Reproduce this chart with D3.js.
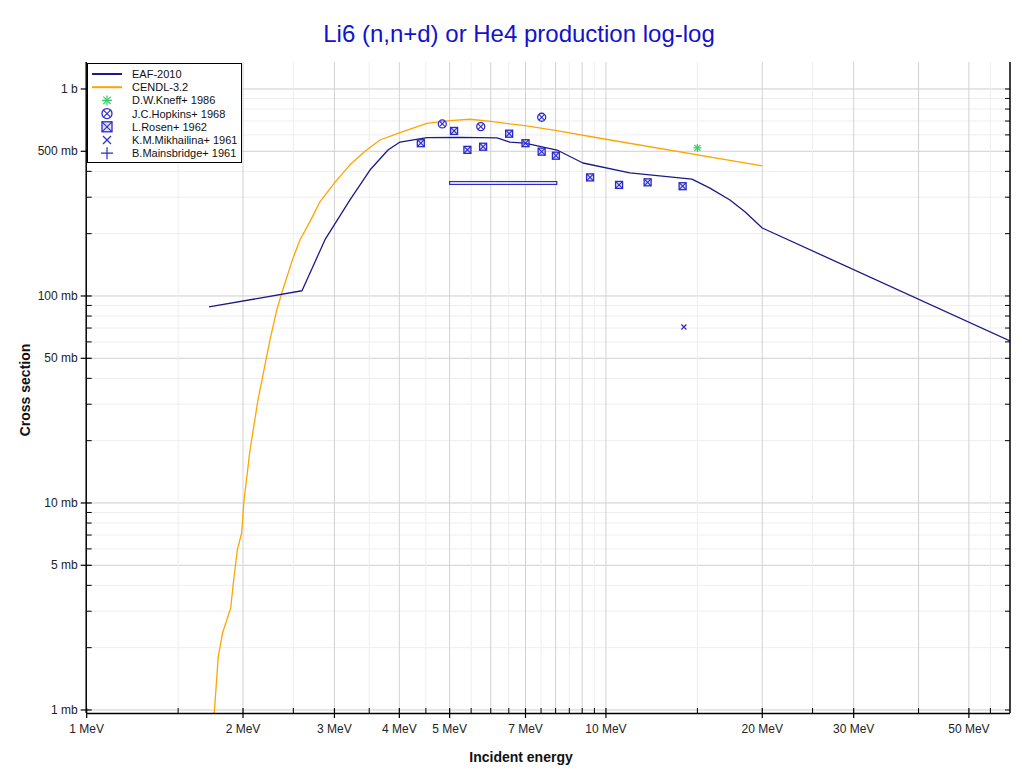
<!DOCTYPE html>
<html><head><meta charset="utf-8">
<script src="https://cdn.jsdelivr.net/npm/d3@7"></script>
<style>
body{margin:0;background:#fff;}
text{font-family:"Liberation Sans",Arial,sans-serif;}
</style></head>
<body><svg id="c" width="1022" height="773"></svg>
<script>
// ---- data ----
const eafE  = [1.72, 2.598, 2.877, 3.214, 3.512, 3.804, 4.012, 4.522, 5.234, 6.17, 6.53, 6.98, 8.05, 9.03, 11.12, 14.64, 15.86, 17.33, 18.52, 20, 60];
const eafXS = [88.5, 106, 187, 291, 406, 507, 554, 582, 584, 580, 554, 548, 507, 439, 393, 367, 332, 291, 255, 213, 60.7];
const cendlE  = [1.75, 1.761, 1.792, 1.827, 1.894, 1.916, 1.950, 1.988, 2.009, 2.063, 2.137, 2.254, 2.323, 2.374, 2.489, 2.575, 2.69, 2.813, 3.0, 3.214, 3.44, 3.671, 4.012, 4.516, 5.008, 5.472, 6.06, 7.035, 8.04, 9.74, 20];
const cendlXS = [0.9, 0.97, 1.81, 2.36, 3.11, 4.11, 5.93, 7.16, 10.3, 18, 31.4, 61.3, 85.6, 103, 149, 187, 228, 285, 352, 430, 502, 567, 615, 682, 703, 714, 695, 663, 629, 578, 425];
const kneffE = [15.0], kneffXS = [519];
const hopkinsE = [4.84, 5.74, 7.52], hopkinsXS = [678, 658, 730];
const rosenE  = [4.40, 5.10, 5.41, 5.80, 6.51, 7.00, 7.52, 8.01, 9.32, 10.6, 12.03, 14.05];
const rosenXS = [547, 627, 508, 526, 608, 547, 498, 476, 374, 344, 354, 339];
const mikhE = [14.13], mikhXS = [70.8];
const mainsE = [6.5], mainsXS = [351], mainsElo = [5.0], mainsEhi = [8.04], mainsXSlo = [346], mainsXShi = [357];
const xTickLabels = [[1,"1 MeV"],[2,"2 MeV"],[3,"3 MeV"],[4,"4 MeV"],[5,"5 MeV"],[7,"7 MeV"],[10,"10 MeV"],[20,"20 MeV"],[30,"30 MeV"],[50,"50 MeV"]];
const xMinorTicks = [1.5,2.5,3.5,4.5,5.5,6,6.5,7.5,8,8.5,9,9.5,15,25,40,55];
const xMajorGrid = [2,3,4,5,6,7,8,9,10,20,30,40,50];
const yTickLabels = [[1,"1 mb"],[5,"5 mb"],[10,"10 mb"],[50,"50 mb"],[100,"100 mb"],[500,"500 mb"],[1000,"1 b"]];
const legendNames = ["EAF-2010","CENDL-3.2","D.W.Kneff+ 1986","J.C.Hopkins+ 1968","L.Rosen+ 1962","K.M.Mikhailina+ 1961","B.Mainsbridge+ 1961"];

// ---- layout ----
const L = 86.7, R = 1010, T = 62, B = 713;
const svg = d3.select("#c");
const x = d3.scaleLog().domain([1, 60]).range([L, R]);
const y = d3.scaleLog().domain([0.967, 1350]).range([B, T]);
const navy = "#1a1a8a", orange = "#ffa500", blue = "#2a2ad0", green = "#33cc66";

const yAll = [];
for (let d = 1; d <= 1000; d *= 10) for (let k = 1; k <= 9; k++) { const v = d*k; if (v >= 0.967 && v <= 1350) yAll.push(v); }
const yLab = yTickLabels.map(d => d[0]);

// grid
const g = svg.append("g");
yAll.forEach(v => {
  g.append("line").attr("x1", L).attr("x2", R).attr("y1", y(v)).attr("y2", y(v))
   .attr("stroke", yLab.includes(v) ? "#cfcfcf" : "#eeeeee").attr("stroke-width", 1);
});
const xAllGrid = Array.from(new Set([...xMinorTicks, ...xMajorGrid])).filter(v => !xMajorGrid.includes(v));
xAllGrid.forEach(v => g.append("line").attr("x1", x(v)).attr("x2", x(v)).attr("y1", T).attr("y2", B).attr("stroke", "#eeeeee"));
xMajorGrid.forEach(v => g.append("line").attr("x1", x(v)).attr("x2", x(v)).attr("y1", T).attr("y2", B).attr("stroke", "#d2d2d2"));

svg.append("clipPath").attr("id", "clip").append("rect").attr("x", L).attr("y", T).attr("width", R-L).attr("height", B-T);
const plot = svg.append("g").attr("clip-path", "url(#clip)");

const line = d3.line().x(d => x(d[0])).y(d => y(d[1]));
plot.append("path").datum(cendlE.map((e,i)=>[e,cendlXS[i]])).attr("d", line).attr("fill","none").attr("stroke",orange).attr("stroke-width",1.3).attr("stroke-linejoin","round");
plot.append("path").datum(eafE.map((e,i)=>[e,eafXS[i]])).attr("d", line).attr("fill","none").attr("stroke",navy).attr("stroke-width",1.3).attr("stroke-linejoin","round");

mainsE.forEach((e,i) => {
  plot.append("rect").attr("x", x(mainsElo[i])).attr("y", y(mainsXShi[i]))
    .attr("width", x(mainsEhi[i]) - x(mainsElo[i])).attr("height", y(mainsXSlo[i]) - y(mainsXShi[i]))
    .attr("fill", "#fff").attr("stroke", blue).attr("stroke-width", 1.2);
});

function boxX(sel, cx, cy, s) {
  sel.append("rect").attr("x", cx-s).attr("y", cy-s).attr("width", 2*s).attr("height", 2*s).attr("fill","#aab").attr("fill-opacity",0.35).attr("stroke", blue).attr("stroke-width", 1.3);
  sel.append("path").attr("d", `M${cx-s},${cy-s}L${cx+s},${cy+s}M${cx+s},${cy-s}L${cx-s},${cy+s}`).attr("stroke", blue).attr("stroke-width", 1.1);
}
function circX(sel, cx, cy, r) {
  sel.append("circle").attr("cx", cx).attr("cy", cy).attr("r", r).attr("fill","none").attr("stroke", blue).attr("stroke-width", 1.3);
  const q = r*0.7;
  sel.append("path").attr("d", `M${cx-q},${cy-q}L${cx+q},${cy+q}M${cx+q},${cy-q}L${cx-q},${cy+q}`).attr("stroke", blue).attr("stroke-width", 1.1);
}
function xMark(sel, cx, cy, s, c) {
  sel.append("path").attr("d", `M${cx-s},${cy-s}L${cx+s},${cy+s}M${cx+s},${cy-s}L${cx-s},${cy+s}`).attr("stroke", c).attr("stroke-width", 1.2);
}
function plusMark(sel, cx, cy, s, c) {
  sel.append("path").attr("d", `M${cx-s},${cy}L${cx+s},${cy}M${cx},${cy-s}L${cx},${cy+s}`).attr("stroke", c).attr("stroke-width", 1.2);
}
function star(sel, cx, cy, s, c) {
  plusMark(sel, cx, cy, s, c); xMark(sel, cx, cy, s*0.75, c);
}
rosenE.forEach((e,i) => boxX(plot, x(e), y(rosenXS[i]), 3.5));
hopkinsE.forEach((e,i) => circX(plot, x(e), y(hopkinsXS[i]), 4));
kneffE.forEach((e,i) => star(plot, x(e), y(kneffXS[i]), 4, green));
mikhE.forEach((e,i) => xMark(plot, x(e), y(mikhXS[i]), 2.5, blue));

// axes
const ax = svg.append("g").attr("stroke", "#000");
ax.append("line").attr("x1", L).attr("x2", R).attr("y1", B+0.5).attr("y2", B+0.5).attr("stroke-width", 1.5);
ax.append("line").attr("x1", L-0.5).attr("x2", L-0.5).attr("y1", T).attr("y2", B).attr("stroke-width", 1.5);
ax.append("line").attr("x1", R).attr("x2", R).attr("y1", T).attr("y2", B).attr("stroke-width", 1.5);
xTickLabels.forEach(([v]) => ax.append("line").attr("x1", x(v)).attr("x2", x(v)).attr("y1", B-5).attr("y2", B+5).attr("stroke-width",1.2));
xMinorTicks.forEach(v => ax.append("line").attr("x1", x(v)).attr("x2", x(v)).attr("y1", B-5).attr("y2", B).attr("stroke-width",1));
yAll.forEach(v => {
  const maj = yLab.includes(v);
  ax.append("line").attr("x1", maj ? L-6 : L).attr("x2", L+5).attr("y1", y(v)).attr("y2", y(v)).attr("stroke-width", maj?1.2:1);
  ax.append("line").attr("x1", R-5).attr("x2", R).attr("y1", y(v)).attr("y2", y(v)).attr("stroke-width", 1);
});
xTickLabels.forEach(([v,t]) => svg.append("text").attr("x", x(v)).attr("y", B+20).attr("text-anchor","middle").attr("font-size",12).attr("fill","#222").text(t));
yTickLabels.forEach(([v,t]) => svg.append("text").attr("x", L-9).attr("y", y(v)+4).attr("text-anchor","end").attr("font-size",12).attr("fill","#222").text(t));

// titles
svg.append("text").attr("x", 519).attr("y", 42).attr("text-anchor","middle").attr("font-size",24).attr("fill","#1212cc").text("Li6 (n,n+d) or He4 production log-log");
svg.append("text").attr("x", 521).attr("y", 762).attr("text-anchor","middle").attr("font-size",14).attr("font-weight","bold").attr("fill","#111").text("Incident energy");
svg.append("text").attr("transform","translate(30,390) rotate(-90)").attr("text-anchor","middle").attr("font-size",14).attr("font-weight","bold").attr("fill","#111").text("Cross section");

// legend
const lg = svg.append("g");
lg.append("rect").attr("x", 87.5).attr("y", 63.5).attr("width", 154).attr("height", 99).attr("fill","#fff").attr("stroke","#000").attr("stroke-width",1);
const ly = i => 74 + i*13.2;
lg.append("line").attr("x1",92).attr("x2",122).attr("y1",ly(0)).attr("y2",ly(0)).attr("stroke",navy).attr("stroke-width",2);
lg.append("line").attr("x1",92).attr("x2",122).attr("y1",ly(1)).attr("y2",ly(1)).attr("stroke",orange).attr("stroke-width",2);
star(lg, 107, ly(2), 5, green);
circX(lg, 107, ly(3), 5);
boxX(lg, 107, ly(4), 5);
xMark(lg, 107, ly(5), 4, blue);
plusMark(lg, 107, ly(6), 6, blue);
legendNames.forEach((n,i) => lg.append("text").attr("x",132).attr("y",ly(i)+4).attr("font-size",11).attr("fill","#111").text(n));
</script></body></html>
